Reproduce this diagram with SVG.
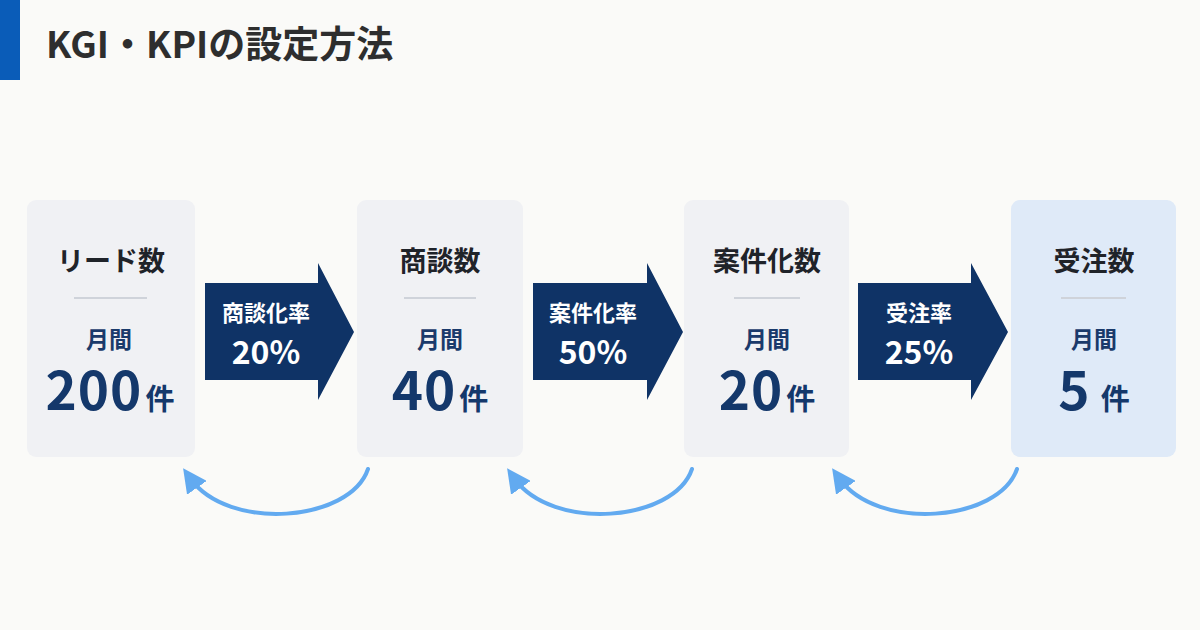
<svg xmlns="http://www.w3.org/2000/svg" width="1200" height="630" viewBox="0 0 1200 630">
<defs>
<style>
.t{font-family:"Noto Sans CJK JP","Noto Sans",sans-serif;font-weight:700;text-anchor:middle}
.box{fill:#f0f1f4}
.hd{font-size:27px;fill:#1f2329}
.mo{font-size:23px;fill:#1a3a6b}
.num{font-size:53px;fill:#14386b;letter-spacing:1px}
.unit{font-size:29px;letter-spacing:0}
.div{stroke:#cfd3da;stroke-width:2}
.arr{fill:#0f3366}
.al{font-size:22px;fill:#fff}
.ap{font-size:32px;fill:#fff}
.fb{fill:none;stroke:#62aaf0;stroke-width:4;stroke-linecap:round}
</style>
<marker id="ah" markerWidth="6" markerHeight="6" refX="3" refY="3" orient="auto" markerUnits="strokeWidth" viewBox="0 0 6 6">
<path d="M0,0 L6,3 L0,6 z" fill="#62aaf0"/>
</marker>
</defs>
<rect width="1200" height="630" fill="#fafaf8"/>
<rect x="0" y="0" width="20" height="80" fill="#0a5cb8"/>
<text x="46" y="58" font-family="Noto Sans CJK JP, sans-serif" font-weight="700" font-size="37" fill="#2e2e2e">KGI・KPIの設定方法</text>

<g id="connectors">
<g id="rate1">
<path class="arr" d="M205,283 H318 V263 L354,332 L318,400 V380 H205 Z"/>
<text class="t al" x="266" y="321">商談化率</text>
<text class="t ap" x="266" y="364">20%</text>
</g>
<g id="rate2">
<path class="arr" d="M533,283 H647 V263 L683,332 L647,400 V380 H533 Z"/>
<text class="t al" x="593" y="321">案件化率</text>
<text class="t ap" x="593" y="364">50%</text>
</g>
<g id="rate3">
<path class="arr" d="M858,283 H971 V263 L1008,332 L971,400 V380 H858 Z"/>
<text class="t al" x="919" y="321">受注率</text>
<text class="t ap" x="919" y="364">25%</text>
</g>
<path class="fb" d="M368,469 C350,522 228,532 190,478" marker-end="url(#ah)"/>
<path class="fb" d="M692,469 C674,522 552,532 514,478" marker-end="url(#ah)"/>
<path class="fb" d="M1017,469 C999,522 877,532 839,478" marker-end="url(#ah)"/>
</g>

<g id="node-lead">
<rect class="box" x="27" y="200" width="168" height="257" rx="9"/>
<text class="t hd" x="111" y="271">リード数</text>
<line class="div" x1="74" y1="298" x2="147" y2="298"/>
<text class="t mo" x="109" y="348">月間</text>
<text class="t num" x="110" y="410">200<tspan class="unit" dx="3">件</tspan></text>
</g>
<g id="node-meeting">
<rect class="box" x="357" y="200" width="166" height="257" rx="9"/>
<text class="t hd" x="440" y="271">商談数</text>
<line class="div" x1="404" y1="298" x2="476" y2="298"/>
<text class="t mo" x="440" y="348">月間</text>
<text class="t num" x="440" y="410">40<tspan class="unit" dx="3">件</tspan></text>
</g>
<g id="node-deal">
<rect class="box" x="684" y="200" width="165" height="257" rx="9"/>
<text class="t hd" x="767" y="271">案件化数</text>
<line class="div" x1="734" y1="298" x2="800" y2="298"/>
<text class="t mo" x="767" y="348">月間</text>
<text class="t num" x="767" y="410">20<tspan class="unit" dx="3">件</tspan></text>
</g>
<g id="node-order">
<rect x="1011" y="200" width="165" height="257" rx="9" fill="#dfeaf8"/>
<text class="t hd" x="1094" y="271">受注数</text>
<line class="div" x1="1061" y1="298" x2="1126" y2="298"/>
<text class="t mo" x="1094" y="348">月間</text>
<text class="t num" x="1094" y="410">5<tspan class="unit" dx="10">件</tspan></text>
</g>
</svg>
